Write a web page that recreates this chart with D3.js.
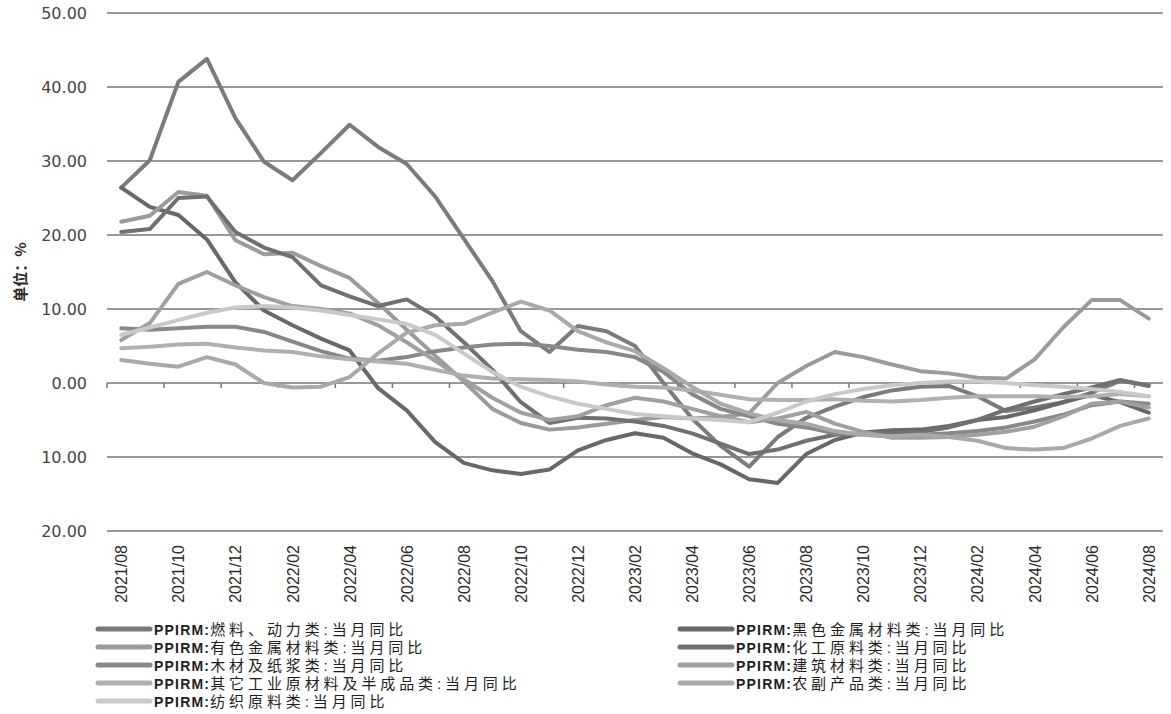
<!DOCTYPE html>
<html>
<head>
<meta charset="utf-8">
<script src="https://d3js.org/d3.v7.min.js"></script>
<style>
  body { margin: 0; background: #ffffff; }
  .grid line { stroke: #767676; stroke-width: 1.5px; }
  .ylab { font-family: "DejaVu Sans", sans-serif; font-size: 16px; fill: #454545; }
  .xlab { font-family: "Liberation Sans", sans-serif; font-size: 16px; fill: #2a2a2a; }
  .legend text { fill: #1e1e1e; font-family: "Liberation Sans", "Noto Sans CJK SC", sans-serif; }
  .legend .en { font-size: 14px; font-weight: bold; letter-spacing: 1.2px; }
  .legend .zh { font-size: 15px; letter-spacing: 3.9px; }
  .series { fill: none; stroke-width: 4px; stroke-linejoin: round; stroke-linecap: round; }
</style>
</head>
<body>
<svg width="1171" height="714"></svg>
<script>
    // months on the category axis
    var months = ["2021/08","2021/09","2021/10","2021/11","2021/12",
        "2022/01","2022/02","2022/03","2022/04","2022/05","2022/06","2022/07","2022/08","2022/09","2022/10","2022/11","2022/12",
        "2023/01","2023/02","2023/03","2023/04","2023/05","2023/06","2023/07","2023/08","2023/09","2023/10","2023/11","2023/12",
        "2024/01","2024/02","2024/03","2024/04","2024/05","2024/06","2024/07","2024/08"];

    var yTicks = [50, 40, 30, 20, 10, 0, -10, -20];

    var seriesNames = [
        "燃料、动力类:当月同比",
        "黑色金属材料类:当月同比",
        "有色金属材料类:当月同比",
        "化工原料类:当月同比",
        "木材及纸浆类:当月同比",
        "建筑材料类:当月同比",
        "其它工业原材料及半成品类:当月同比",
        "农副产品类:当月同比",
        "纺织原料类:当月同比"
    ];

    var fuel = [26.4,30.1,40.7,43.8,35.8,29.9,27.4,31.1,34.9,31.9,29.6,25.2,19.5,13.8,7.0,4.2,7.7,7.0,5.0,0.0,
        -4.8,-8.5,-11.3,-7.3,-4.7,-3.2,-1.9,-1.0,-0.5,-0.4,-1.8,-3.8,-3.3,-2.6,-1.3,0.3,-0.3];
    var ferrous = [26.4,23.8,22.7,19.4,13.6,9.8,7.8,6.0,4.4,-0.7,-3.7,-8.0,-10.8,-11.8,-12.3,-11.7,-9.1,-7.7,-6.8,-7.4,
        -9.5,-11.0,-13.0,-13.5,-9.6,-7.7,-6.7,-6.4,-6.3,-5.8,-5.0,-4.6,-3.7,-2.6,-1.6,-2.6,-4.0];
    var nonferrous = [21.8,22.6,25.8,25.3,19.3,17.4,17.6,15.8,14.2,10.8,7.2,3.7,0.2,-3.5,-5.4,-6.3,-6.0,-5.5,-5.0,-4.6,
        -4.8,-4.6,-4.1,0.0,2.3,4.2,3.5,2.5,1.6,1.3,0.7,0.6,3.2,7.5,11.2,11.2,8.7];
    var chemical = [20.4,20.8,25.0,25.2,20.4,18.3,17.0,13.2,11.7,10.4,11.3,9.0,5.5,1.8,-2.6,-5.4,-4.7,-4.8,-5.2,-5.8,
        -6.8,-8.2,-9.6,-9.0,-7.8,-7.0,-6.8,-6.8,-6.6,-6.0,-5.0,-3.6,-2.5,-1.5,-0.6,0.4,-0.4];
    var wood = [7.4,7.2,7.4,7.6,7.6,6.9,5.6,4.3,3.3,3.0,3.5,4.3,4.8,5.2,5.3,5.0,4.5,4.2,3.5,1.5,
        -1.5,-3.5,-4.5,-5.5,-6.0,-6.8,-7.0,-7.2,-7.0,-6.8,-6.5,-6.0,-5.2,-4.3,-3.0,-2.5,-2.8];
    var building = [5.8,8.1,13.4,15.0,13.2,11.6,10.4,10.0,9.4,7.8,5.5,3.0,0.5,-2.0,-4.0,-5.0,-4.5,-3.0,-2.0,-2.5,
        -3.5,-4.5,-5.3,-4.8,-3.9,-5.5,-6.6,-7.4,-7.4,-7.3,-7.0,-6.6,-5.9,-4.5,-2.8,-2.5,-3.3];
    var other = [4.7,4.9,5.2,5.3,4.8,4.4,4.2,3.6,3.2,2.9,2.6,1.8,1.0,0.6,0.5,0.4,0.2,-0.2,-0.5,-0.6,
        -1.0,-1.6,-2.2,-2.3,-2.3,-2.2,-2.4,-2.5,-2.3,-2.0,-1.8,-1.8,-1.8,-1.9,-1.8,-1.5,-1.8];
    var agri = [3.1,2.6,2.2,3.5,2.5,0.0,-0.6,-0.5,0.8,4.0,6.8,7.8,8.0,9.5,11.0,9.8,7.0,5.5,4.3,2.0,
        -0.5,-2.8,-4.1,-5.0,-5.5,-6.5,-7.0,-7.2,-7.0,-7.3,-7.8,-8.8,-9.0,-8.8,-7.5,-5.8,-4.8];
    var textile = [6.5,7.5,8.5,9.5,10.2,10.4,10.2,9.8,9.2,8.6,8.0,6.5,4.0,1.5,-0.5,-1.8,-2.8,-3.5,-4.2,-4.5,
        -4.8,-5.0,-5.3,-4.0,-2.5,-1.5,-0.8,-0.3,0.0,0.2,0.2,0.0,-0.3,-0.5,-0.8,-1.2,-1.8];

    var seriesValues = [fuel, ferrous, nonferrous, chemical, wood, building, other, agri, textile];
    var colors = ["#7b7b7b","#686868","#9b9b9b","#707070","#888888","#a0a0a0","#b0b0b0","#a9a9a9","#c9c9c9"];

    var svg = d3.select("svg"),
        margin = {top: 13, left: 107},
        plotRight = 1163,
        height = 531 - margin.top;

    var x = d3.scaleBand().domain(months).range([0, plotRight - margin.left]);
    var y = d3.scaleLinear().domain([-20, 50]).range([height, 0]);

    var g = svg.append("g")
        .attr("transform", "translate(" + margin.left + "," + margin.top + ")");

    // horizontal gridlines
    g.append("g").attr("class", "grid")
        .selectAll("line").data(yTicks).enter().append("line")
        .attr("x1", 0).attr("x2", x.range()[1])
        .attr("y1", function (d) { return y(d); })
        .attr("y2", function (d) { return y(d); });

    // y labels (the scan shows negatives without a sign)
    g.selectAll(".ylab").data(yTicks).enter().append("text")
        .attr("class", "ylab")
        .attr("x", -20)
        .attr("y", function (d) { return y(d); })
        .attr("dy", "0.36em")
        .attr("text-anchor", "end")
        .text(function (d) { return Math.abs(d).toFixed(2); });

    // category ticks on the zero line, every two months
    var tickIdx = d3.range(0, months.length + 1, 2);
    g.append("g").attr("class", "grid")
        .selectAll("line").data(tickIdx).enter().append("line")
        .attr("x1", function (i) { return i * x.step(); })
        .attr("x2", function (i) { return i * x.step(); })
        .attr("y1", y(0)).attr("y2", y(0) + 5);

    // x labels, rotated, at the low position
    var labelMonths = months.filter(function (d, i) { return i % 2 === 0; });
    g.selectAll(".xlab").data(labelMonths).enter().append("text")
        .attr("class", "xlab")
        .attr("transform", function (d) {
            return "translate(" + (x(d) + x.bandwidth() / 2 + 6) + "," + (height + 14) + ") rotate(-90)";
        })
        .attr("text-anchor", "end")
        .text(function (d) { return d; });

    // y axis title
    svg.append("text")
        .attr("transform", "translate(26,272) rotate(-90)")
        .attr("text-anchor", "middle")
        .style("font-family", "'Noto Sans CJK SC', sans-serif")
        .style("font-size", "15px")
        .style("font-weight", "bold")
        .style("fill", "#2a2a2a")
        .text("单位：%");

    var line = d3.line()
        .x(function (d, i) { return x(months[i]) + x.bandwidth() / 2; })
        .y(function (d) { return y(d); });

    g.selectAll(".series").data(seriesValues).enter().append("path")
        .attr("class", "series")
        .attr("stroke", function (d, i) { return colors[i]; })
        .attr("d", line);

    // legend, two columns filled row by row
    var legend = svg.append("g").attr("class", "legend");
    seriesNames.forEach(function (name, i) {
        var col = i % 2, row = Math.floor(i / 2);
        var lx = col === 0 ? 98 : 680, ly = 629 + row * 18;
        legend.append("line")
            .attr("x1", lx).attr("x2", lx + 52)
            .attr("y1", ly).attr("y2", ly)
            .attr("stroke", colors[i]).attr("stroke-width", 5).attr("stroke-linecap", "round");
        var t = legend.append("text")
            .attr("x", lx + 56).attr("y", ly).attr("dy", "0.36em");
        t.append("tspan").attr("class", "en").text("PPIRM:");
        t.append("tspan").attr("class", "zh").text(name);
    });
</script>
</body>
</html>
